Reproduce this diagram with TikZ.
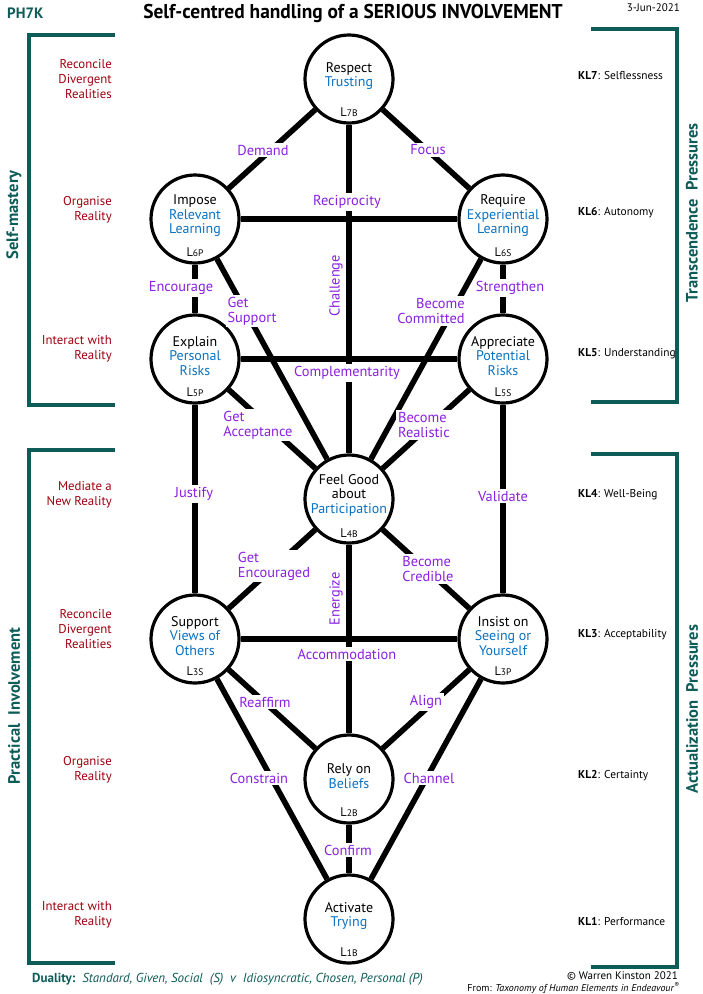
\documentclass[tikz,border=0pt]{standalone}
\usepackage{fontspec}
\setmainfont{PT Sans}
\usetikzlibrary{calc}
\definecolor{lblpurple}{RGB}{138,32,224}
\definecolor{nodeblue}{RGB}{10,114,194}
\definecolor{sidered}{RGB}{160,0,16}
\definecolor{tealc}{RGB}{13,92,88}
\newcommand{\Lsub}[1]{L{\fontsize{9.5}{10}\selectfont #1}}
\tikzset{
  circnode/.style={circle, draw=black, line width=3.2pt, minimum size=88pt, inner sep=0pt, fill=white},
  ntext/.style={align=center, font=\fontsize{14}{14.5}\selectfont, inner sep=0pt},
  nlev/.style={font=\fontsize{12.5}{13}\selectfont, inner sep=0pt},
  conn/.style={line width=5.6pt, black},
  lbl/.style={text=lblpurple, fill=white, inner sep=2pt, font=\fontsize{14.4}{15}\selectfont, align=left},
  rlbl/.style={text=lblpurple, inner sep=0pt, font=\fontsize{14.4}{15}\selectfont, rotate=90},
  side/.style={text=sidered, anchor=east, align=right, font=\fontsize{12.8}{15}\selectfont, inner sep=0pt},
  kl/.style={anchor=west, font=\fontsize{11.4}{14}\selectfont, inner sep=0pt},
  bracket/.style={draw=tealc, line width=3.4pt},
  vtitle/.style={text=tealc, font=\fontsize{16.5}{18}\selectfont\bfseries, rotate=90, inner sep=0pt}
}
\begin{document}
\begin{tikzpicture}[x=1pt,y=-1pt]
\useasboundingbox[fill=white] (0,0) rectangle (703,994);

% header
\node[text=tealc, font=\fontsize{15}{16}\selectfont\bfseries, anchor=west, inner sep=0pt] (code) at (7,13) {PH7K};
\node[font=\fontsize{20}{22}\selectfont\bfseries, inner sep=0pt] (title) at (353,13) {\scalebox{0.97}[1]{Self-centred handling of a SERIOUS INVOLVEMENT}};
\node[font=\fontsize{11}{12}\selectfont, anchor=east, inner sep=0pt] (date) at (680,8) {3-Jun-2021};

% brackets
\draw[bracket] (115,35) -- (29,35) -- (29,405) -- (115,405);
\draw[bracket] (115,450) -- (29,450) -- (29,963) -- (115,963);
\draw[bracket] (591,29) -- (677,29) -- (677,402) -- (591,402);
\draw[bracket] (591,454) -- (677,454) -- (677,967) -- (591,967);

\node[vtitle] (selfm) at (14,215) {Self-mastery};
\node[vtitle] (pract) at (14,706) {Practical\ \ Involvement};
\node[vtitle] (transc) at (692,213) {Transcendence\ \ Pressures};
\node[vtitle] (actual) at (692,709) {Actualization\ \ Pressures};

% left side texts
\node[side] (s1) at (112,79) {Reconcile\\Divergent\\Realities};
\node[side] (s2) at (112,210) {Organise\\Reality};
\node[side] (s3) at (112,349) {Interact with\\Reality};
\node[side] (s4) at (112,495) {Mediate a\\New Reality};
\node[side] (s5) at (112,629) {Reconcile\\Divergent\\Realities};
\node[side] (s6) at (112,770) {Organise\\Reality};
\node[side] (s7) at (112,915) {Interact with\\Reality};

% right side texts
\node[kl] (k7) at (578,76) {\textbf{KL7}: Selflessness};
\node[kl] (k6) at (578,213) {\textbf{KL6}: Autonomy};
\node[kl] (k5) at (578,354) {\textbf{KL5}: Understanding};
\node[kl] (k4) at (578,495) {\textbf{KL4}: Well-Being};
\node[kl] (k3) at (578,635) {\textbf{KL3}: Acceptability};
\node[kl] (k2) at (578,776) {\textbf{KL2}: Certainty};
\node[kl] (k1) at (578,921) {\textbf{KL1}: Performance};

% circles
\node[circnode] (respect) at (349,79) {};
\node[circnode] (impose) at (195,219) {};
\node[circnode] (require) at (503,219) {};
\node[circnode] (explain) at (195,359) {};
\node[circnode] (appreciate) at (503,359) {};
\node[circnode] (feel) at (349,499) {};
\node[circnode] (support) at (195,639) {};
\node[circnode] (insist) at (503,639) {};
\node[circnode] (rely) at (349,779) {};
\node[circnode] (activate) at (349,919) {};

% connectors
\draw[conn] (respect) -- (impose);
\draw[conn] (respect) -- (require);
\draw[conn] (respect) -- (feel);
\draw[conn] (impose) -- (require);
\draw[conn] (impose) -- (explain);
\draw[conn] (require) -- (appreciate);
\draw[conn] (impose) -- (feel);
\draw[conn] (require) -- (feel);
\draw[conn] (explain) -- (appreciate);
\draw[conn] (explain) -- (feel);
\draw[conn] (appreciate) -- (feel);
\draw[conn] (explain) -- (support);
\draw[conn] (appreciate) -- (insist);
\draw[conn] (feel) -- (support);
\draw[conn] (feel) -- (insist);
\draw[conn] (feel) -- (rely);
\draw[conn] (support) -- (insist);
\draw[conn] (support) -- (rely);
\draw[conn] (insist) -- (rely);
\draw[conn] (support) -- (activate);
\draw[conn] (insist) -- (activate);
\draw[conn] (rely) -- (activate);

% node texts
\node[ntext] (respect-t) at ($(respect)+(0,-3)$) {Respect\\\textcolor{nodeblue}{Trusting}};
\node[nlev] (respect-l) at ($(respect)+(0,33)$) {\Lsub{7B}};
\node[ntext] (impose-t) at ($(impose)+(0,-3)$) {Impose\\\textcolor{nodeblue}{Relevant}\\\textcolor{nodeblue}{Learning}};
\node[nlev] (impose-l) at ($(impose)+(0,33)$) {\Lsub{6P}};
\node[ntext] (require-t) at ($(require)+(0,-3)$) {Require\\\textcolor{nodeblue}{Experiential}\\\textcolor{nodeblue}{Learning}};
\node[nlev] (require-l) at ($(require)+(0,33)$) {\Lsub{6S}};
\node[ntext] (explain-t) at ($(explain)+(0,-3)$) {Explain\\\textcolor{nodeblue}{Personal}\\\textcolor{nodeblue}{Risks}};
\node[nlev] (explain-l) at ($(explain)+(0,33)$) {\Lsub{5P}};
\node[ntext] (appreciate-t) at ($(appreciate)+(0,-3)$) {Appreciate\\\textcolor{nodeblue}{Potential}\\\textcolor{nodeblue}{Risks}};
\node[nlev] (appreciate-l) at ($(appreciate)+(0,33)$) {\Lsub{5S}};
\node[ntext] (feel-t) at ($(feel)+(0,-4)$) {Feel Good\\about\\\textcolor{nodeblue}{Participation}};
\node[nlev] (feel-l) at ($(feel)+(0,34)$) {\Lsub{4B}};
\node[ntext] (support-t) at ($(support)+(0,-3)$) {Support\\\textcolor{nodeblue}{Views of}\\\textcolor{nodeblue}{Others}};
\node[nlev] (support-l) at ($(support)+(0,32)$) {\Lsub{3S}};
\node[ntext] (insist-t) at ($(insist)+(0,-3)$) {Insist on\\\textcolor{nodeblue}{Seeing or}\\\textcolor{nodeblue}{Yourself}};
\node[nlev] (insist-l) at ($(insist)+(0,32)$) {\Lsub{3P}};
\node[ntext] (rely-t) at ($(rely)+(0,-3)$) {Rely on\\\textcolor{nodeblue}{Beliefs}};
\node[nlev] (rely-l) at ($(rely)+(0,33)$) {\Lsub{2B}};
\node[ntext] (activate-t) at ($(activate)+(0,-3)$) {Activate\\\textcolor{nodeblue}{Trying}};
\node[nlev] (activate-l) at ($(activate)+(0,33)$) {\Lsub{1B}};

% connector labels
\node[lbl] (l-demand) at (263,150) {Demand};
\node[lbl] (l-focus) at (428,150) {Focus};
\node[lbl] (l-recip) at (347,202) {Reciprocity};
\node[rlbl] (l-chall) at (336,286) {Challenge};
\node[lbl] (l-encour) at (181,288) {Encourage};
\node[lbl] (l-streng) at (510,288) {Strengthen};
\node[lbl] (l-getsup) at (252,311) {Get\\Support};
\node[lbl, align=right] (l-becom) at (431,311) {Become\\Committed};
\node[lbl] (l-compl) at (347,373) {Complementarity};
\node[lbl] (l-getacc) at (258,425) {Get\\Acceptance};
\node[lbl] (l-bereal) at (424,425) {Become\\Realistic};
\node[lbl] (l-justify) at (194,494) {Justify};
\node[lbl] (l-valid) at (503,496) {Validate};
\node[lbl] (l-getenc) at (274,566) {Get\\Encouraged};
\node[lbl] (l-becred) at (428,569) {Become\\Credible};
\node[rlbl] (l-energ) at (336,599) {Energize};
\node[lbl] (l-accom) at (347,654) {Accommodation};
\node[lbl] (l-reaff) at (265,702) {Reaffirm};
\node[lbl] (l-align) at (426,702) {Align};
\node[lbl] (l-constr) at (259,778) {Constrain};
\node[lbl] (l-chan) at (429,778) {Channel};
\node[lbl] (l-confirm) at (348,850) {Confirm};

% footer
\node[anchor=west, text=tealc, font=\fontsize{13}{14}\selectfont, inner sep=0pt] (duality) at (32,979) {\textbf{Duality:}\ \ \textit{Standard, Given, Social\ \ (S)\ \ v\ \ Idiosyncratic, Chosen, Personal (P)}};
\node[anchor=east, font=\fontsize{11}{12}\selectfont, inner sep=0pt] (copy) at (678,976) {\textcopyright\ Warren Kinston 2021};
\node[anchor=east, font=\fontsize{10}{11}\selectfont, inner sep=0pt] (from) at (680,988) {From: \textit{Taxonomy of Human Elements in Endeavour}\textsuperscript{\textregistered}};
\end{tikzpicture}
\end{document}
